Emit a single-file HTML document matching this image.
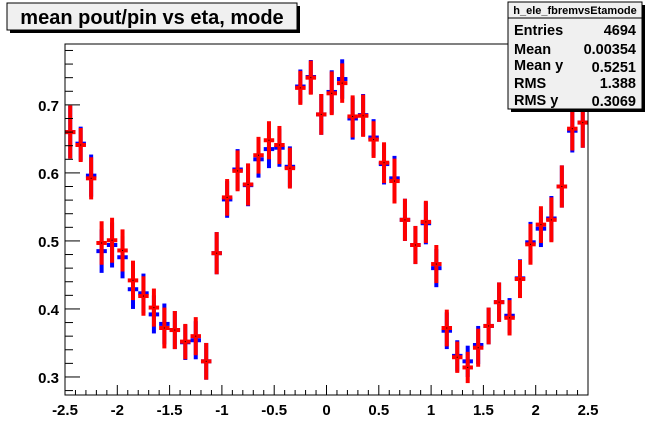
<!DOCTYPE html>
<html><head><meta charset="utf-8"><style>
html,body{margin:0;padding:0;background:#fff;}
svg{display:block;font-family:"Liberation Sans",Arial,sans-serif;}
</style></head><body>
<svg id="chart" width="653" height="441" viewBox="0 0 653 441" xmlns="http://www.w3.org/2000/svg">
<rect x="0" y="0" width="653" height="441" fill="#fff"/>
<g id="marks"></g>
<rect x="65" y="44" width="523" height="351" fill="none" stroke="#000" stroke-width="1"/>
<g id="axes"></g>
<g>
<rect x="10" y="6" width="290" height="27" fill="#000"/>
<rect x="7" y="3" width="290" height="27" fill="#f0f0f0" stroke="#000" stroke-width="1"/>
<text x="152" y="24" text-anchor="middle" font-size="20" font-weight="bold">mean pout/pin vs eta, mode</text>
</g>
<g>
<rect x="511" y="5" width="134" height="107" fill="#000"/>
<rect x="508" y="2" width="134" height="107" fill="#f0f0f0" stroke="#000" stroke-width="1"/>
<line x1="508" y1="18" x2="642" y2="18" stroke="#000"/>
<text x="575" y="14" text-anchor="middle" font-size="11" font-weight="bold">h_ele_fbremvsEtamode</text>
<g font-size="14.5" font-weight="bold">
<text x="514" y="35">Entries</text><text x="636" y="35" text-anchor="end">4694</text>
<text x="514" y="54">Mean</text><text x="636" y="54" text-anchor="end">0.00354</text>
<text x="514" y="70">Mean y</text><text x="636" y="72" text-anchor="end">0.5251</text>
<text x="514" y="88">RMS</text><text x="636" y="88" text-anchor="end">1.388</text>
<text x="514" y="105">RMS y</text><text x="636" y="106" text-anchor="end">0.3069</text>
</g>
</g>
</svg>
<script>
const xLo = -2.5, xHi = 2.5, binWidth = 0.1;
const redValues = [0.660,0.641,0.592,0.497,0.501,0.486,0.442,0.419,0.402,0.372,0.369,0.352,0.360,0.323,0.482,0.564,0.603,0.583,0.626,0.648,0.641,0.607,0.725,0.740,0.686,0.717,0.732,0.683,0.684,0.649,0.615,0.588,0.531,0.494,0.528,0.466,0.372,0.329,0.314,0.343,0.375,0.410,0.387,0.444,0.495,0.524,0.531,0.580,0.665,0.674];
const blueValues = [0.660,0.643,0.596,0.485,0.494,0.476,0.429,0.423,0.392,0.378,0.369,0.351,0.354,0.323,0.482,0.561,0.605,0.582,0.620,0.635,0.637,0.609,0.727,0.741,0.686,0.719,0.738,0.680,0.685,0.652,0.613,0.592,0.531,0.494,0.526,0.460,0.368,0.331,0.323,0.347,0.375,0.410,0.390,0.445,0.498,0.518,0.533,0.580,0.662,0.674];
const errors = [0.039,0.025,0.031,0.032,0.033,0.031,0.029,0.029,0.028,0.030,0.028,0.026,0.028,0.027,0.031,0.027,0.030,0.031,0.027,0.028,0.028,0.030,0.025,0.025,0.030,0.032,0.029,0.031,0.031,0.027,0.030,0.033,0.031,0.028,0.031,0.028,0.027,0.023,0.023,0.028,0.027,0.029,0.026,0.028,0.030,0.027,0.033,0.031,0.032,0.037];
const xTicks = [-2.5,-2,-1.5,-1,-0.5,0,0.5,1,1.5,2,2.5];
const xTickLabels = ["-2.5","-2","-1.5","-1","-0.5","0","0.5","1","1.5","2","2.5"];
const yTicks = [0.3,0.4,0.5,0.6,0.7];
const yTickLabels = ["0.3","0.4","0.5","0.6","0.7"];

const L=65,R=588,T=44,B=395;
const yLo=0.2735, yHi=0.7895;
function xs(v){return L+(v-xLo)/(xHi-xLo)*(R-L);}
function ys(v){return B-(v-yLo)/(yHi-yLo)*(B-T);}
const NS="http://www.w3.org/2000/svg";
const marks=document.getElementById('marks');
const axes=document.getElementById('axes');
function mk(tag,attrs,parent){const e=document.createElementNS(NS,tag);for(const k in attrs)e.setAttribute(k,attrs[k]);parent.appendChild(e);return e;}

function drawSeries(vals,color,name){
  const g=mk('g',{},marks);
  
  
  vals.forEach((v,i)=>{
    const c=xLo+(i+0.5)*binWidth;
    const x=xs(c), y=ys(v);
    const eb=mk('line',{x1:x,x2:x,y1:ys(v+errors[i]),y2:ys(v-errors[i]),stroke:color,'stroke-width':4},g);
    
    
    const hb=mk('line',{x1:xs(c-binWidth/2),x2:xs(c+binWidth/2),y1:y,y2:y,stroke:color,'stroke-width':4},g);
    
    
  });
}
drawSeries(blueValues,'#0000ff','blue-series');
drawSeries(redValues,'#ff0000','red-series');
redValues.forEach((v,i)=>{
  const c=xLo+(i+0.5)*binWidth;
  const d=mk('rect',{x:xs(c)-0.5,y:ys(v)-0.5,width:1,height:1,fill:'#000'},marks);
  
  
});

for(let k=0;k<=50;k++){
  const v=xLo+k*0.1; const major=(k%5===0);
  const t=mk('line',{x1:xs(v),x2:xs(v),y1:B,y2:B-(major?10:5),stroke:'#000'},axes);
  
  
}
xTicks.forEach((v,i)=>{
  const t=mk('text',{x:xs(v),y:415,'text-anchor':'middle','font-size':15,'font-weight':'bold'},axes);
  t.textContent=xTickLabels[i];
  
  
});
for(let v=0.28;v<=0.781;v+=0.02){
  const vv=Math.round(v*100)/100; const major=Math.abs(vv*10-Math.round(vv*10))<1e-6;
  const t=mk('line',{x1:L,x2:L+(major?15:8),y1:ys(vv),y2:ys(vv),stroke:'#000'},axes);
  
  
}
yTicks.forEach((v,i)=>{
  const t=mk('text',{x:59,y:ys(v)+6,'text-anchor':'end','font-size':15,'font-weight':'bold'},axes);
  t.textContent=yTickLabels[i];
  
  
});
</script>
</body></html>
